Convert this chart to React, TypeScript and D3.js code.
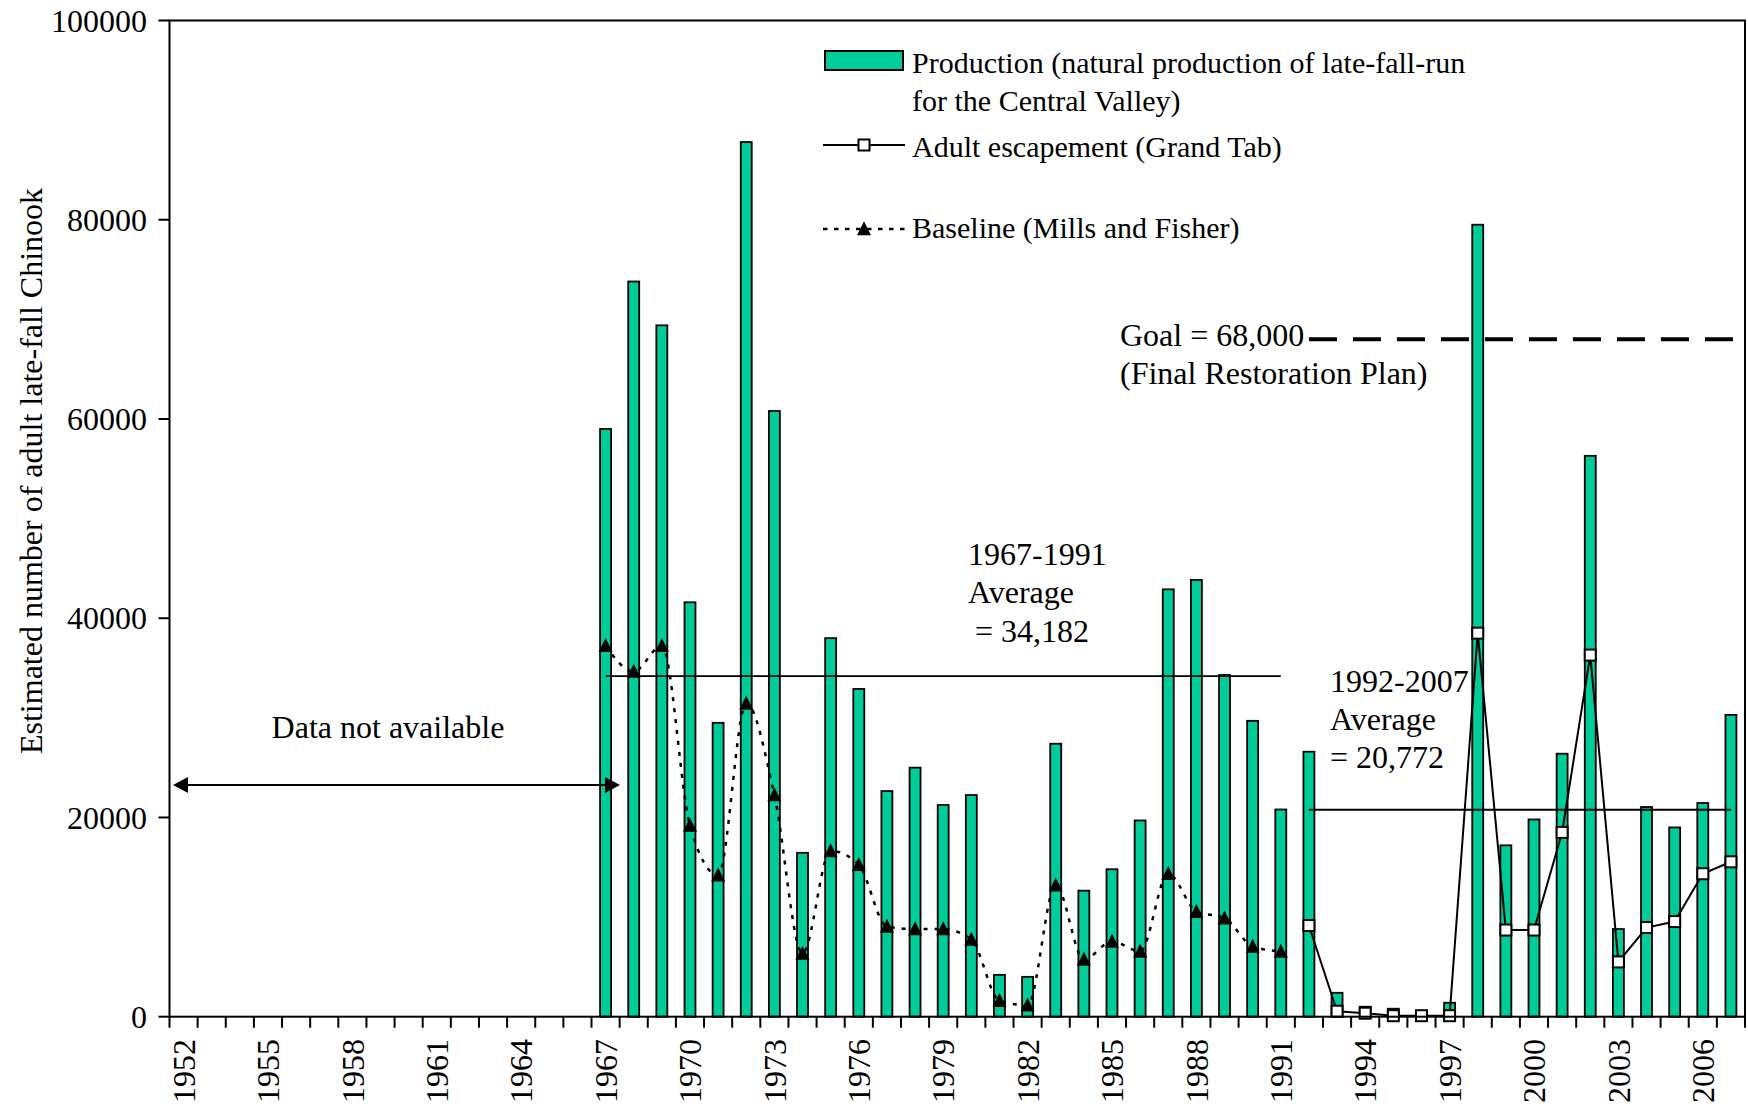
import React from 'react';
import * as d3 from 'd3';

const years: number[] = [
  1952, 1953, 1954, 1955, 1956, 1957, 1958, 1959, 1960, 1961, 1962, 1963, 1964, 1965,
  1966, 1967, 1968, 1969, 1970, 1971, 1972, 1973, 1974, 1975, 1976, 1977, 1978, 1979,
  1980, 1981, 1982, 1983, 1984, 1985, 1986, 1987, 1988, 1989, 1990, 1991, 1992, 1993,
  1994, 1995, 1996, 1997, 1998, 1999, 2000, 2001, 2002, 2003, 2004, 2005, 2006, 2007,
];

// Production (natural production of late-fall-run), 1967-2007
const productionYears: number[] = [
  1967, 1968, 1969, 1970, 1971, 1972, 1973, 1974, 1975, 1976, 1977, 1978, 1979, 1980,
  1981, 1982, 1983, 1984, 1985, 1986, 1987, 1988, 1989, 1990, 1991, 1992, 1993, 1994,
  1995, 1996, 1997, 1998, 1999, 2000, 2001, 2002, 2003, 2004, 2005, 2006, 2007,
];
const production: number[] = [
  59000, 73800, 69400, 41600, 29500, 87800, 60800, 16450, 38000, 32900, 22650, 25000, 21250, 22250,
  4200, 4000, 27400, 12650, 14800, 19700, 42900, 43850, 34300, 29700, 20800, 26600, 2400, 1000,
  800, 0, 1400, 79500, 17200, 19800, 26400, 56300, 8800, 21050, 19000, 21450, 30300,
];

// Baseline (Mills and Fisher), 1967-1991
const baselineYears: number[] = [
  1967, 1968, 1969, 1970, 1971, 1972, 1973, 1974, 1975, 1976, 1977, 1978, 1979, 1980,
  1981, 1982, 1983, 1984, 1985, 1986, 1987, 1988, 1989, 1990, 1991,
];
const baseline: number[] = [
  37250, 34650, 37250, 19200, 14200, 31450, 22250, 6350, 16650, 15250, 9050, 8800, 8800, 7750,
  1600, 1150, 13200, 5750, 7550, 6550, 14350, 10550, 9900, 7050, 6550,
];

// Adult escapement (Grand Tab), 1992-2007
const escapementYears: number[] = [
  1992, 1993, 1994, 1995, 1996, 1997, 1998, 1999, 2000, 2001, 2002, 2003, 2004, 2005, 2006, 2007,
];
const escapement: number[] = [
  9150, 550, 350, 100, 100, 100, 38500, 8700, 8700, 18500, 36300, 5500, 8950, 9550, 14350, 15550,
];

const yTicks: number[] = [0, 20000, 40000, 60000, 80000, 100000];
const xTickLabels: number[] = [
  1952, 1955, 1958, 1961, 1964, 1967, 1970, 1973, 1976, 1979, 1982, 1985, 1988, 1991, 1994,
  1997, 2000, 2003, 2006,
];

const avg1 = { from: 1967, to: 1991, value: 34182 };
const avg2 = { from: 1992, to: 2007, value: 20772 };
const goal = { from: 1992, value: 68000 };

const W = 1748;
const H = 1107;
const L = 169.5;
const R = 1745;
const T = 20.5;
const B = 1016.7;
const FONT = '"Liberation Serif", "Times New Roman", serif';
const GREEN = '#00CC99';

export default function App() {
  const x = d3.scaleBand<number>().domain(years).range([L, R]).paddingInner(0.61).paddingOuter(0.305);
  const y = d3.scaleLinear().domain([0, 100000]).range([B, T]);
  const step = x.step();
  const cx = (yr: number) => (x(yr) as number) + x.bandwidth() / 2;

  const baseLine = d3
    .line<number>()
    .x((_, i) => cx(baselineYears[i]))
    .y((d) => y(d))
    .curve(d3.curveMonotoneX);
  const escLine = d3
    .line<number>()
    .x((_, i) => cx(escapementYears[i]))
    .y((d) => y(d));

  const tri = (px: number, py: number, s = 14) =>
    `M${px},${py - s * 0.55} L${px + s / 2},${py + s * 0.45} L${px - s / 2},${py + s * 0.45} Z`;

  const arrowY = 785;
  const arrowL = 173;
  const arrowR = 620;

  return (
    <svg
      width={W}
      height={H}
      style={{ position: 'absolute', left: 0, top: 0, background: '#fff' }}
      fontFamily={FONT}
    >
      <rect x={0} y={0} width={W} height={H} fill="#fff" />

      {/* Goal dashed line */}
      <line
        x1={cx(goal.from)}
        x2={R - 10}
        y1={y(goal.value)}
        y2={y(goal.value)}
        stroke="#000"
        strokeWidth={4}
        strokeDasharray="28,16"
      />

      {/* Bars */}
      {production.map((v, i) => (
        <rect
          key={productionYears[i]}
          x={x(productionYears[i])}
          y={y(v)}
          width={x.bandwidth()}
          height={B - y(v)}
          fill={GREEN}
          stroke="#000"
          strokeWidth={1.8}
        />
      ))}

      {/* Average lines */}
      <line x1={cx(avg1.from)} x2={cx(avg1.to)} y1={y(avg1.value)} y2={y(avg1.value)} stroke="#000" strokeWidth={1.8} />
      <line x1={cx(avg2.from)} x2={cx(avg2.to)} y1={y(avg2.value)} y2={y(avg2.value)} stroke="#000" strokeWidth={1.8} />

      {/* Baseline dotted line */}
      <path d={baseLine(baseline) || ''} fill="none" stroke="#000" strokeWidth={2.5} strokeDasharray="4,7" />
      {baseline.map((v, i) => (
        <path key={'t' + i} d={tri(cx(baselineYears[i]), y(v))} fill="#000" />
      ))}

      {/* Escapement line */}
      <path d={escLine(escapement) || ''} fill="none" stroke="#000" strokeWidth={2} />
      {escapement.map((v, i) => (
        <rect
          key={'s' + i}
          x={cx(escapementYears[i]) - 5.5}
          y={y(v) - 5.5}
          width={11}
          height={11}
          fill="#fff"
          stroke="#000"
          strokeWidth={2}
        />
      ))}

      {/* Frame */}
      <rect x={L} y={T} width={R - L} height={B - T} fill="none" stroke="#000" strokeWidth={2} />

      {/* Y ticks */}
      {yTicks.map((t) => (
        <g key={t}>
          <line x1={L - 11} x2={L} y1={y(t)} y2={y(t)} stroke="#000" strokeWidth={2} />
          <text x={147} y={y(t)} dy="0.35em" textAnchor="end" fontSize={32}>
            {t}
          </text>
        </g>
      ))}

      {/* X ticks */}
      {d3.range(years.length + 1).map((i) => (
        <line key={'xt' + i} x1={L + i * step} x2={L + i * step} y1={B} y2={B + 11} stroke="#000" strokeWidth={2} />
      ))}
      {xTickLabels.map((yr) => (
        <text
          key={'xl' + yr}
          transform={`translate(${cx(yr)},${1039}) rotate(-90)`}
          dy="0.35em"
          textAnchor="end"
          fontSize={32}
        >
          {yr}
        </text>
      ))}

      {/* Y title */}
      <text transform="translate(42,471) rotate(-90)" textAnchor="middle" fontSize={32}>
        Estimated number of adult late-fall Chinook
      </text>

      {/* Data not available arrow */}
      <line x1={arrowL + 10} x2={arrowR - 10} y1={arrowY} y2={arrowY} stroke="#000" strokeWidth={2} />
      <path d={`M${arrowL},${arrowY} L${arrowL + 15},${arrowY - 8} L${arrowL + 15},${arrowY + 8} Z`} fill="#000" />
      <path d={`M${arrowR},${arrowY} L${arrowR - 15},${arrowY - 8} L${arrowR - 15},${arrowY + 8} Z`} fill="#000" />
      <text x={388} y={738} textAnchor="middle" fontSize={32}>
        Data not available
      </text>

      {/* Annotations */}
      <text x={968} y={565} fontSize={32}>1967-1991</text>
      <text x={968} y={603} fontSize={32}>Average</text>
      <text x={975} y={642} fontSize={32}>= 34,182</text>

      <text x={1330} y={692} fontSize={32}>1992-2007</text>
      <text x={1330} y={730} fontSize={32}>Average</text>
      <text x={1330} y={768} fontSize={32}>= 20,772</text>

      <text x={1120} y={346} fontSize={32}>Goal = 68,000</text>
      <text x={1120} y={384} fontSize={32}>(Final Restoration Plan)</text>

      {/* Legend */}
      <rect x={825} y={51} width={78} height={19} fill={GREEN} stroke="#000" strokeWidth={2} />
      <text x={912} y={73} fontSize={30}>Production (natural production of late-fall-run</text>
      <text x={912} y={111} fontSize={30}>for the Central Valley)</text>

      <line x1={823} x2={905} y1={145} y2={145} stroke="#000" strokeWidth={2} />
      <rect x={864 - 5.5} y={145 - 5.5} width={11} height={11} fill="#fff" stroke="#000" strokeWidth={2} />
      <text x={912} y={157} fontSize={30}>Adult escapement (Grand Tab)</text>

      <line x1={823} x2={905} y1={229} y2={229} stroke="#000" strokeWidth={2.5} strokeDasharray="4.5,6.5" />
      <path d={tri(864, 229)} fill="#000" />
      <text x={912} y={238} fontSize={30}>Baseline (Mills and Fisher)</text>
    </svg>
  );
}
